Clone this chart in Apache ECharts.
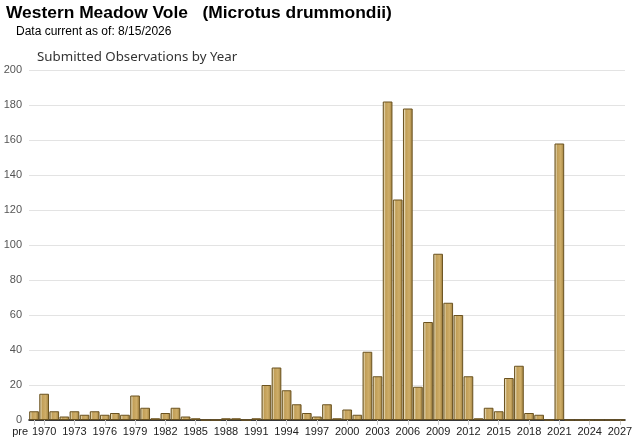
<!DOCTYPE html>
<html><head><meta charset="utf-8">
<script src="https://cdn.jsdelivr.net/npm/echarts@6/dist/echarts.min.js"></script>
<style>html,body{margin:0;padding:0;background:#fff}#c{width:640px;height:442px}</style>
</head><body><div id="c"></div>
<script>
var categories = ['pre'];
for (var y = 1970; y <= 2027; y++) categories.push(String(y));
var counts = [5,
  15,5,2,5,3,5,3,4,3,14,
  7,1,4,7,2,1,0,0,1,1,
  0,1,20,30,17,9,4,2,9,1,
  6,3,39,25,182,126,178,19,56,95,
  67,60,25,1,7,5,24,31,4,3,
  0,158,0,0,0,0,0,0];
var yTicks = {min: 0, max: 200, step: 20};

function showLabel(i) { return i === 0 || (i - 1) % 3 === 0; }

var chart = echarts.init(document.getElementById('c'), null, {renderer: 'canvas'});
var barFill = new echarts.graphic.LinearGradient(0, 0, 1, 0, [
  {offset: 0, color: '#8e7232'},
  {offset: 0.15, color: '#e4d8b4'},
  {offset: 0.3, color: '#c19e57'},
  {offset: 0.65, color: '#cfae69'},
  {offset: 1, color: '#9c7d3b'}
]);
chart.setOption({
  animation: false,
  title: [
    {text: 'Western Meadow Vole   (Microtus drummondii)', left: 6, top: 5, padding: 0,
     textStyle: {fontFamily: 'Liberation Sans, Arial', fontSize: 17.4, fontWeight: 'bold', color: '#000'}},
    {text: 'Data current as of: 8/15/2026', left: 16, top: 26, padding: 0,
     textStyle: {fontFamily: 'Liberation Sans, Arial', fontSize: 12, fontWeight: 'normal', color: '#000'}},
    {text: 'Submitted Observations by Year', left: 37, top: 51, padding: 0,
     textStyle: {fontFamily: 'Noto Sans, DejaVu Sans', fontSize: 13.3, fontWeight: 'normal', color: '#333'}}
  ],
  grid: {left: 29, right: 15, top: 70, bottom: 22},
  xAxis: {
    type: 'category', data: categories, boundaryGap: true,
    axisLine: {lineStyle: {color: '#000', width: 1.5}},
    axisTick: {show: true, interval: function (i) { return showLabel(i); }, alignWithLabel: true, length: 5, lineStyle: {color: '#ccc'}},
    axisLabel: {
      interval: function (i) { return showLabel(i); }, hideOverlap: false, alignMinLabel: 'right',
      color: '#222', fontFamily: 'Liberation Sans, Arial', fontSize: 11, margin: 6,
      formatter: function (v, i) { return i === 0 ? '{p|' + v + '}' : v; },
      rich: {p: {color: '#222', fontFamily: 'Liberation Sans, Arial', fontSize: 11, padding: [0, 6, 0, 0]}}
    }
  },
  yAxis: {
    type: 'value', min: yTicks.min, max: yTicks.max, interval: yTicks.step,
    axisLine: {show: false}, axisTick: {show: false},
    splitLine: {lineStyle: {color: '#e3e3e3'}},
    axisLabel: {color: '#555', fontFamily: 'Liberation Sans, Arial', fontSize: 11, margin: 7}
  },
  series: [{
    type: 'bar', data: counts, barCategoryGap: '4%',
    itemStyle: {color: barFill, borderColor: '#6b5320', borderWidth: 1}
  }]
});
</script></body></html>
